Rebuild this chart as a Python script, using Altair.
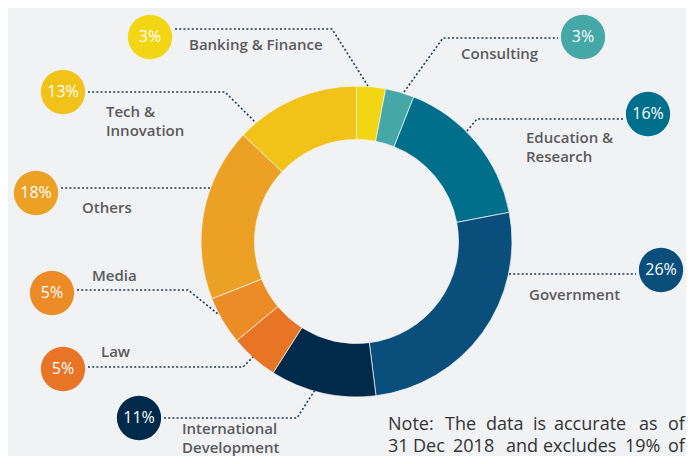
import altair as alt
import pandas as pd

# ---- data ----
categories = ["Banking & Finance", "Consulting", "Education & Research", "Government",
              "International Development", "Law", "Media", "Others", "Tech & Innovation"]
shares = [3, 3, 16, 26, 11, 5, 5, 18, 13]
label_text = ["Banking & Finance", "Consulting", "Education &\nResearch", "Government",
              "International\nDevelopment", "Law", "Media", "Others", "Tech &\nInnovation"]
note_lines = ["Note: The data is accurate as of", "31 Dec 2018 and excludes 19% of"]

# ---- style ----
colors = ["#F2D513", "#45A8A6", "#006F8C", "#0A4F7B", "#00294A",
          "#E87426", "#EC8C27", "#ECA125", "#F1C218"]
BG = "#F0F2F4"
FONT = "Open Sans"

# ---- layout (page pixel coordinates) ----
circle_pos = [(150, 37), (583, 37), (648, 114), (661, 270), (139, 418),
              (63, 369), (52, 293), (36, 193), (63, 92)]
label_pos = [(189, 50), (461, 59), (526, 143), (529, 300), (182, 434),
             (101, 357), (92, 281), (82, 213), (106, 117)]
leaders = [
    [(175, 29), (332, 29), (368, 86)],
    [(404, 92), (443, 38), (558, 38)],
    [(467, 131), (477, 119), (623, 119)],
    [(509, 274), (636, 274)],
    [(164, 418), (297, 418), (315, 390)],
    [(88, 367), (243, 367), (253, 357)],
    [(77, 290), (188, 290), (218, 314)],
    [(61, 188), (210, 188)],
    [(88, 92), (225, 92), (256, 123)],
]
# justified note: start x of each word per line, and baseline y of each line
note_word_x = [[388, 445, 486, 533, 554, 639, 668],
               [388, 413, 453, 506, 543, 625, 668]]
note_line_y = [430, 452]

arc_df = pd.DataFrame({"category": categories, "share": shares, "idx": list(range(len(categories)))})
circ_df = pd.DataFrame({
    "category": categories,
    "pct": [f"{s}%" for s in shares],
    "x": [p[0] for p in circle_pos],
    "y": [p[1] for p in circle_pos],
})
lab_df = pd.DataFrame({
    "label": label_text,
    "x": [p[0] for p in label_pos],
    "y": [p[1] for p in label_pos],
})
rows = []
for cat, pts in zip(categories, leaders):
    for i, (x, y) in enumerate(pts):
        rows.append({"category": cat, "seq": i, "x": x, "y": y})
lead_df = pd.DataFrame(rows)
nrows = []
for line, xs_, y in zip(note_lines, note_word_x, note_line_y):
    for w, x in zip(line.split(" "), xs_):
        nrows.append({"t": w, "x": x, "y": y})
note_df = pd.DataFrame(nrows)

W, H = 678, 448
xs = alt.Scale(domain=[8, 8 + W], nice=False, zero=False)
ys = alt.Scale(domain=[8, 8 + H], nice=False, zero=False, reverse=True)
cscale = alt.Scale(domain=categories, range=colors)
X = alt.X("x:Q", scale=xs, axis=None)
Y = alt.Y("y:Q", scale=ys, axis=None)

arcs = alt.Chart(arc_df).mark_arc(
    outerRadius=155.5, innerRadius=102, stroke="#F7F8F9", strokeWidth=0.7
).encode(
    theta=alt.Theta("share:Q", stack=True),
    order=alt.Order("idx:Q"),
    color=alt.Color("category:N", scale=cscale, legend=None),
    x=alt.value(356.5 - 8),
    y=alt.value(241.5 - 8),
)

lines = alt.Chart(lead_df).mark_line(
    strokeDash=[2, 2.2], strokeWidth=1.6, color="#1E3A5C"
).encode(x=X, y=Y, detail="category:N", order="seq:Q")

circles = alt.Chart(circ_df).mark_point(
    filled=True, shape="circle", size=1963, opacity=1
).encode(x=X, y=Y, color=alt.Color("category:N", scale=cscale, legend=None))

pcts = alt.Chart(circ_df).mark_text(
    color="white", fontSize=16, font=FONT, align="center", baseline="middle"
).encode(x=X, y=Y, text="pct:N")

labels = alt.Chart(lab_df).mark_text(
    align="left", baseline="alphabetic", fontSize=15, font=FONT, fontWeight=600,
    color="#5A5A5C", lineBreak="\n", lineHeight=19
).encode(x=X, y=Y, text="label:N")

note = alt.Chart(note_df).mark_text(
    align="left", baseline="alphabetic", fontSize=18, font=FONT, color="#333333"
).encode(x=X, y=Y, text="t:N")

chart = alt.layer(arcs, lines, circles, pcts, labels, note).properties(
    width=W, height=H, padding=0, background=BG,
    autosize=alt.AutoSizeParams(type="none"),
).configure_view(stroke=None)

chart.save("out.html", embed_options={"renderer": "svg", "actions": False})
